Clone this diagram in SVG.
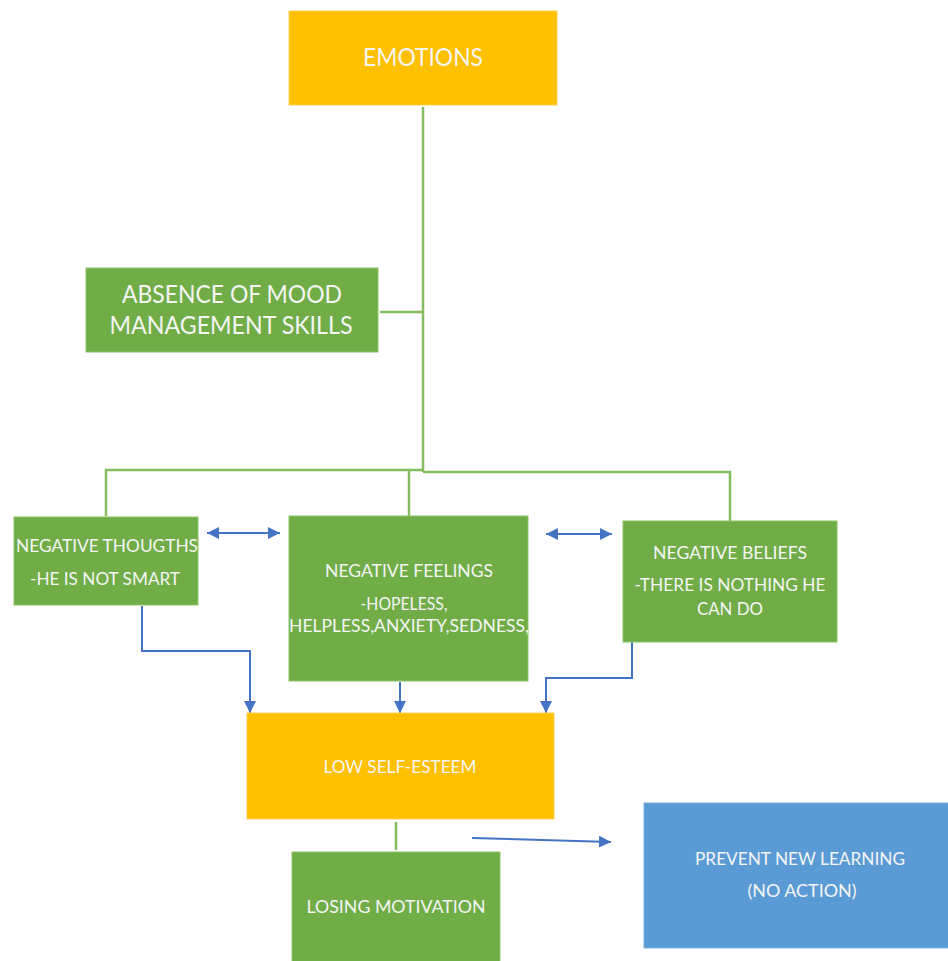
<svg xmlns="http://www.w3.org/2000/svg" width="948" height="961" viewBox="0 0 948 961">
<style>
.t{font-family:Lato,"Open Sans","Liberation Sans",sans-serif;fill:#F5F5F5;text-anchor:middle}
.s{font-size:18px}
.b{font-size:25px}
.g{fill:#70AD47;stroke:#8DC46B;stroke-width:1}
.o{fill:#FFC000;stroke:#FFD04D;stroke-width:1}
.u{fill:#5B9BD5;stroke:#7FB1DF;stroke-width:1}
.gl{fill:none;stroke:#84BD60;stroke-width:2.5}
.bl{fill:none;stroke:#4472C4;stroke-width:2}
</style>
<defs>
<marker id="ah" viewBox="0 0 10 10" refX="10" refY="5" markerWidth="6" markerHeight="6" orient="auto-start-reverse" markerUnits="strokeWidth">
<path d="M0,0 L10,5 L0,10 z" fill="#4472C4"/>
</marker>
</defs>
<rect width="948" height="961" fill="#FFFFFF"/>
<g id="connectors">
<path class="gl" d="M423,107 V472"/>
<path class="gl" d="M380,312 H423"/>
<path class="gl" d="M106,516 V470 H423"/>
<path class="gl" d="M409,470 V516"/>
<path class="gl" d="M423,472 H730 V521"/>
<path class="gl" d="M396,822 V850"/>
<path class="bl" d="M142,606 V651 H250 V713" marker-end="url(#ah)"/>
<path class="bl" d="M400,682 V713" marker-end="url(#ah)"/>
<path class="bl" d="M632,642 V678 H546 V713" marker-end="url(#ah)"/>
<path class="bl" d="M207,533 H280" marker-start="url(#ah)" marker-end="url(#ah)"/>
<path class="bl" d="M546,534 H612" marker-start="url(#ah)" marker-end="url(#ah)"/>
<path class="bl" d="M472,838 L611,842" marker-end="url(#ah)"/>
</g>
<g id="emotions">
<rect class="o" x="289" y="11" width="268" height="94"/>
<text class="t b" x="423" y="66" textLength="120" lengthAdjust="spacingAndGlyphs">EMOTIONS</text>
</g>
<g id="absence">
<rect class="g" x="86" y="268" width="292" height="84"/>
<text class="t b" x="232" y="303" textLength="220" lengthAdjust="spacingAndGlyphs">ABSENCE OF MOOD</text>
<text class="t b" x="231" y="334" textLength="243" lengthAdjust="spacingAndGlyphs">MANAGEMENT SKILLS</text>
</g>
<g id="thoughts">
<rect class="g" x="14" y="517" width="184" height="88"/>
<text class="t s" x="107" y="552" textLength="182" lengthAdjust="spacingAndGlyphs">NEGATIVE THOUGTHS</text>
<text class="t s" x="105" y="585" textLength="150" lengthAdjust="spacingAndGlyphs">-HE IS NOT SMART</text>
</g>
<g id="feelings">
<rect class="g" x="289" y="516" width="239" height="165"/>
<text class="t s" x="409" y="577" textLength="168" lengthAdjust="spacingAndGlyphs">NEGATIVE FEELINGS</text>
<text class="t s" x="404" y="610" textLength="87" lengthAdjust="spacingAndGlyphs">-HOPELESS,</text>
<text class="t s" x="409" y="632" textLength="240" lengthAdjust="spacingAndGlyphs">HELPLESS,ANXIETY,SEDNESS,</text>
</g>
<g id="beliefs">
<rect class="g" x="623" y="521" width="214" height="121"/>
<text class="t s" x="730" y="559" textLength="154" lengthAdjust="spacingAndGlyphs">NEGATIVE BELIEFS</text>
<text class="t s" x="730" y="591" textLength="191" lengthAdjust="spacingAndGlyphs">-THERE IS NOTHING HE</text>
<text class="t s" x="730" y="615" textLength="66" lengthAdjust="spacingAndGlyphs">CAN DO</text>
</g>
<g id="low-self-esteem">
<rect class="o" x="247" y="713" width="307" height="106"/>
<text class="t s" x="400" y="773" textLength="153" lengthAdjust="spacingAndGlyphs">LOW SELF-ESTEEM</text>
</g>
<g id="losing-motivation">
<rect class="g" x="292" y="852" width="208" height="115"/>
<text class="t s" x="396" y="913" textLength="179" lengthAdjust="spacingAndGlyphs">LOSING MOTIVATION</text>
</g>
<g id="prevent">
<rect class="u" x="644" y="803" width="310" height="145"/>
<text class="t s" x="800" y="865" textLength="210" lengthAdjust="spacingAndGlyphs">PREVENT NEW LEARNING</text>
<text class="t s" x="802" y="897" textLength="109" lengthAdjust="spacingAndGlyphs">(NO ACTION)</text>
</g>
</svg>
